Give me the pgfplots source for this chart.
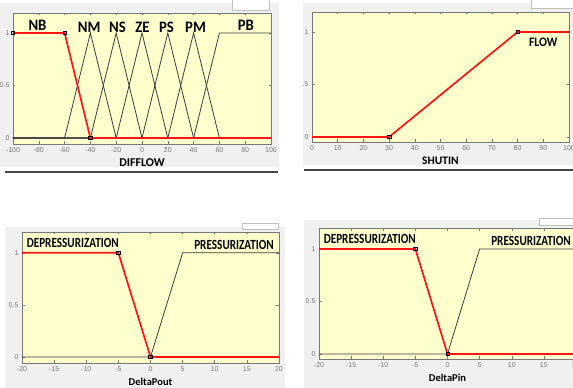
\documentclass[border=0pt]{standalone}
\usepackage{pgfplots}
\pgfplotsset{compat=1.18}
\usepackage{fontspec}
\setmainfont{Carlito}
\newfontfamily\tickfont{Liberation Sans}
\definecolor{axbg}{RGB}{255,255,206}
\definecolor{panelgray}{RGB}{240,240,240}
\definecolor{darkline}{RGB}{70,70,70}
\definecolor{mfline}{RGB}{60,60,60}
\definecolor{mfred}{RGB}{255,20,20}
\definecolor{tickgray}{RGB}{120,120,120}
\tikzset{
  big/.style={font=\bfseries\fontsize{16}{16}\selectfont, xscale=0.92},
  mid/.style={font=\bfseries\fontsize{14}{14}\selectfont, xscale=0.8},
}
\pgfplotsset{
  mf/.style={
    scale only axis, anchor=south west,
    axis background/.style={fill=axbg},
    axis line style={draw=tickgray, line width=0.6pt},
    tick align=inside, major tick length=2.5pt,
    tick style={tickgray, line width=0.5pt},
    /pgf/number format/assume math mode=true,
    ticklabel style={font=\tickfont\fontsize{7}{7}\selectfont, text=tickgray},
    ytick={0,0.5,1}, yticklabels={0,0.5,1},
    xlabel style={at={(axis description cs:0.5,0)}, anchor=center, yshift=-19pt},
    clip=false,
  },
  blk/.style={mfline, line width=0.8pt, no markers},
  redl/.style={mfred, line width=1.7pt, no markers},
  sq/.style={only marks, mark=square, mark size=1.7pt, mark options={black, line width=0.6pt}},
}
\begin{document}
\begin{tikzpicture}[x=1pt,y=1pt]
\useasboundingbox (0pt,0pt) rectangle (573pt,388pt);
\clip (0pt,0pt) rectangle (573pt,388pt);
\fill[white] (0pt,0pt) rectangle (573pt,388pt);
% panel backgrounds
\fill[panelgray] (0pt,221pt) rectangle (279pt,385pt);
\fill[darkline] (5pt,215pt) rectangle (278pt,216.8pt);
\fill[panelgray] (303pt,223pt) rectangle (573pt,385pt);
\fill[darkline] (304pt,217pt) rectangle (573pt,218.6pt);
\fill[panelgray] (5pt,0pt) rectangle (285pt,161pt);
\fill[panelgray] (304pt,0pt) rectangle (573pt,168pt);
\filldraw[fill=white, draw=panelgray!80!black, line width=0.3pt] (232pt,378pt) rectangle (269pt,389pt);
\filldraw[fill=white, draw=panelgray!80!black, line width=0.3pt] (531pt,380pt) rectangle (574pt,389pt);
\filldraw[fill=white, draw=panelgray!80!black, line width=0.3pt] (242pt,159pt) rectangle (278pt,165pt);
\filldraw[fill=white, draw=panelgray!80!black, line width=0.3pt] (539pt,163pt) rectangle (574pt,170pt);

% ---------- Panel 1: DIFFLOW ----------
\begin{axis}[mf, at={(13pt,244pt)}, width=258pt, height=131pt,
  xmin=-100, xmax=100, ymin=-0.057, ymax=1.19,
  xtick={-100,-80,...,100}, xlabel={DIFFLOW},
  xlabel style={font=\bfseries\fontsize{12}{12}\selectfont}]
\addplot[blk] coordinates {(-100,0) (-60,0) (-40,1) (-20,0) (100,0)};
\addplot[blk] coordinates {(-100,0) (-40,0) (-20,1) (0,0) (100,0)};
\addplot[blk] coordinates {(-100,0) (-20,0) (0,1) (20,0) (100,0)};
\addplot[blk] coordinates {(-100,0) (0,0) (20,1) (40,0) (100,0)};
\addplot[blk] coordinates {(-100,0) (20,0) (40,1) (60,0) (100,0)};
\addplot[blk] coordinates {(-100,0) (40,0) (60,1) (100,1)};
\addplot[redl] coordinates {(-100,1) (-60,1) (-40,0) (100,0)};
\addplot[sq] coordinates {(-100,1) (-60,1) (-40,0)};
\node[big] at (axis cs:-81,1.075) {NB};
\node[big] at (axis cs:-41,1.055) {NM};
\node[big] at (axis cs:-19,1.055) {NS};
\node[big] at (axis cs:0.4,1.055) {ZE};
\node[big] at (axis cs:19,1.055) {PS};
\node[big] at (axis cs:41.5,1.055) {PM};
\node[big] at (axis cs:80.5,1.075) {PB};
\end{axis}

% ---------- Panel 2: SHUTIN ----------
\begin{scope}
\clip (303pt,200pt) rectangle (573pt,388pt);
\begin{axis}[mf, at={(312pt,246pt)}, width=257pt, height=130pt,
  xmin=0, xmax=100, ymin=-0.048, ymax=1.19,
  xtick={0,10,...,100}, xlabel={SHUTIN},
  xlabel style={font=\bfseries\fontsize{11.5}{11.5}\selectfont}]
\addplot[redl] coordinates {(0,0) (30,0) (80,1) (100,1)};
\addplot[sq] coordinates {(30,0) (80,1)};
\node[font=\bfseries\fontsize{13}{13}\selectfont, xscale=0.9] at (axis cs:90,0.9) {FLOW};
\end{axis}
\end{scope}

% ---------- Panel 3: DeltaPout ----------
\begin{axis}[mf, at={(22pt,25pt)}, width=257pt, height=131pt,
  xmin=-20, xmax=20, ymin=-0.058, ymax=1.2,
  xtick={-20,-15,...,20}, xlabel={DeltaPout},
  xlabel style={font=\bfseries\fontsize{10.5}{10.5}\selectfont}]
\addplot[blk] coordinates {(-20,0) (0,0) (5,1) (20,1)};
\addplot[redl] coordinates {(-20,1) (-5,1) (0,0) (20,0)};
\addplot[sq] coordinates {(-5,1) (0,0)};
\node[mid] at (axis cs:-12.1,1.09) {DEPRESSURIZATION};
\node[mid] at (axis cs:13,1.075) {PRESSURIZATION};
\end{axis}

% ---------- Panel 4: DeltaPin ----------
\begin{axis}[mf, at={(319pt,29pt)}, width=257pt, height=131pt,
  xmin=-20, xmax=20, ymin=-0.048, ymax=1.2,
  xtick={-20,-15,...,20}, xlabel={DeltaPin},
  xlabel style={font=\bfseries\fontsize{10.5}{10.5}\selectfont}]
\addplot[blk] coordinates {(-20,0) (0,0) (5,1) (20,1)};
\addplot[redl] coordinates {(-20,1) (-5,1) (0,0) (20,0)};
\addplot[sq] coordinates {(-5,1) (0,0)};
\node[mid] at (axis cs:-12.1,1.1) {DEPRESSURIZATION};
\node[mid] at (axis cs:13,1.075) {PRESSURIZATION};
\end{axis}
\end{tikzpicture}
\end{document}
